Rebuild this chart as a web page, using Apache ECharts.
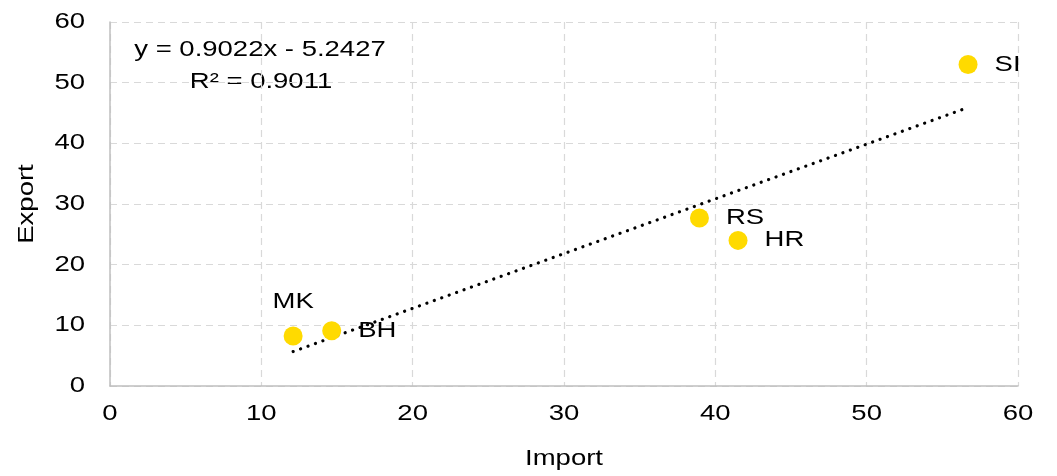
<!DOCTYPE html>
<html>
<head>
<meta charset="utf-8">
<script src="https://cdn.jsdelivr.net/npm/echarts@6/dist/echarts.min.js"></script>
<style>html,body{margin:0;padding:0;background:#fff}#c{width:1057px;height:476px}</style>
</head>
<body>
<div id="c"></div>
<script>
var countries = ['SI', 'RS', 'HR', 'MK', 'BH'];
var importVals = [56.7, 38.95, 41.5, 12.1, 14.65];
var exportVals = [53.0, 27.7, 24.0, 8.25, 9.1];
var labelPos = ['right', 'right', 'right', 'top', 'right'];
var trendSlope = 0.9022;
var trendIntercept = -5.2427;
var eqText = 'y = 0.9022x - 5.2427';
var r2Text = 'R² = 0.9011';
var xTicks = { min: 0, max: 60, interval: 10 };
var yTicks = { min: 0, max: 60, interval: 10 };

// The reference renders its text horizontally widened; reproduce that on the canvas text draw.
(function () {
  var TEXT_WIDEN = 1.25;
  var proto = CanvasRenderingContext2D.prototype;
  var orig = proto.fillText;
  proto.fillText = function (t, x, y, m) {
    this.save();
    this.translate(x, y);
    this.scale(TEXT_WIDEN, 1);
    if (m === undefined) orig.call(this, t, 0, 0); else orig.call(this, t, 0, 0, m);
    this.restore();
  };
})();

var FONT = '"Liberation Sans", Arial, sans-serif';
var FS = 22;
var pts = countries.map(function (c, i) {
  return {
    value: [importVals[i], exportVals[i]],
    name: c,
    label: { position: labelPos[i], distance: labelPos[i] === 'top' ? 14 : 17 }
  };
});
var xMin = Math.min.apply(null, importVals), xMax = Math.max.apply(null, importVals);
var trend = [[xMin, trendSlope * xMin + trendIntercept], [xMax, trendSlope * xMax + trendIntercept]];

var chart = echarts.init(document.getElementById('c'));
chart.setOption({
  animation: false,
  grid: { left: 110, right: 39, top: 22, bottom: 90, containLabel: false },
  xAxis: {
    type: 'value', min: xTicks.min, max: xTicks.max, interval: xTicks.interval,
    name: 'Import', nameLocation: 'middle', nameGap: 62,
    nameTextStyle: { fontFamily: FONT, fontSize: FS, color: '#000' },
    axisLine: { show: true, lineStyle: { color: '#bfbfbf', width: 1.5 } },
    axisTick: { show: false },
    axisLabel: { fontFamily: FONT, fontSize: FS, color: '#000', margin: 17 },
    splitLine: { show: true, lineStyle: { color: '#d9d9d9', type: [7, 5], width: 1.2 } }
  },
  yAxis: {
    type: 'value', min: yTicks.min, max: yTicks.max, interval: yTicks.interval,
    name: 'Export', nameLocation: 'middle', nameGap: 72, nameRotate: 90,
    nameTextStyle: { fontFamily: FONT, fontSize: FS, color: '#000' },
    axisLine: { show: true, lineStyle: { color: '#bfbfbf', width: 1.5 } },
    axisTick: { show: false },
    axisLabel: { fontFamily: FONT, fontSize: FS, color: '#000', margin: 25 },
    splitLine: { show: true, lineStyle: { color: '#d9d9d9', type: [7, 5], width: 1.2 } }
  },
  series: [
    {
      type: 'line', data: trend, symbol: 'none', silent: true, z: 1,
      lineStyle: { color: '#000', width: 3.2, type: [0.1, 7.8], cap: 'round' }
    },
    {
      type: 'scatter', data: pts, symbolSize: 19, z: 2,
      itemStyle: { color: '#FFDA00', opacity: 1 },
      label: {
        show: true, formatter: '{b}', fontFamily: FONT, fontSize: FS, color: '#000'
      }
    }
  ],
  graphic: [
    { type: 'text', x: 260, y: 50, style: { text: eqText, align: 'center', verticalAlign: 'middle', font: FS + 'px ' + FONT, fill: '#000' } },
    { type: 'text', x: 261, y: 82, style: { text: r2Text, align: 'center', verticalAlign: 'middle', font: FS + 'px ' + FONT, fill: '#000' } }
  ]
});
</script>
</body>
</html>
